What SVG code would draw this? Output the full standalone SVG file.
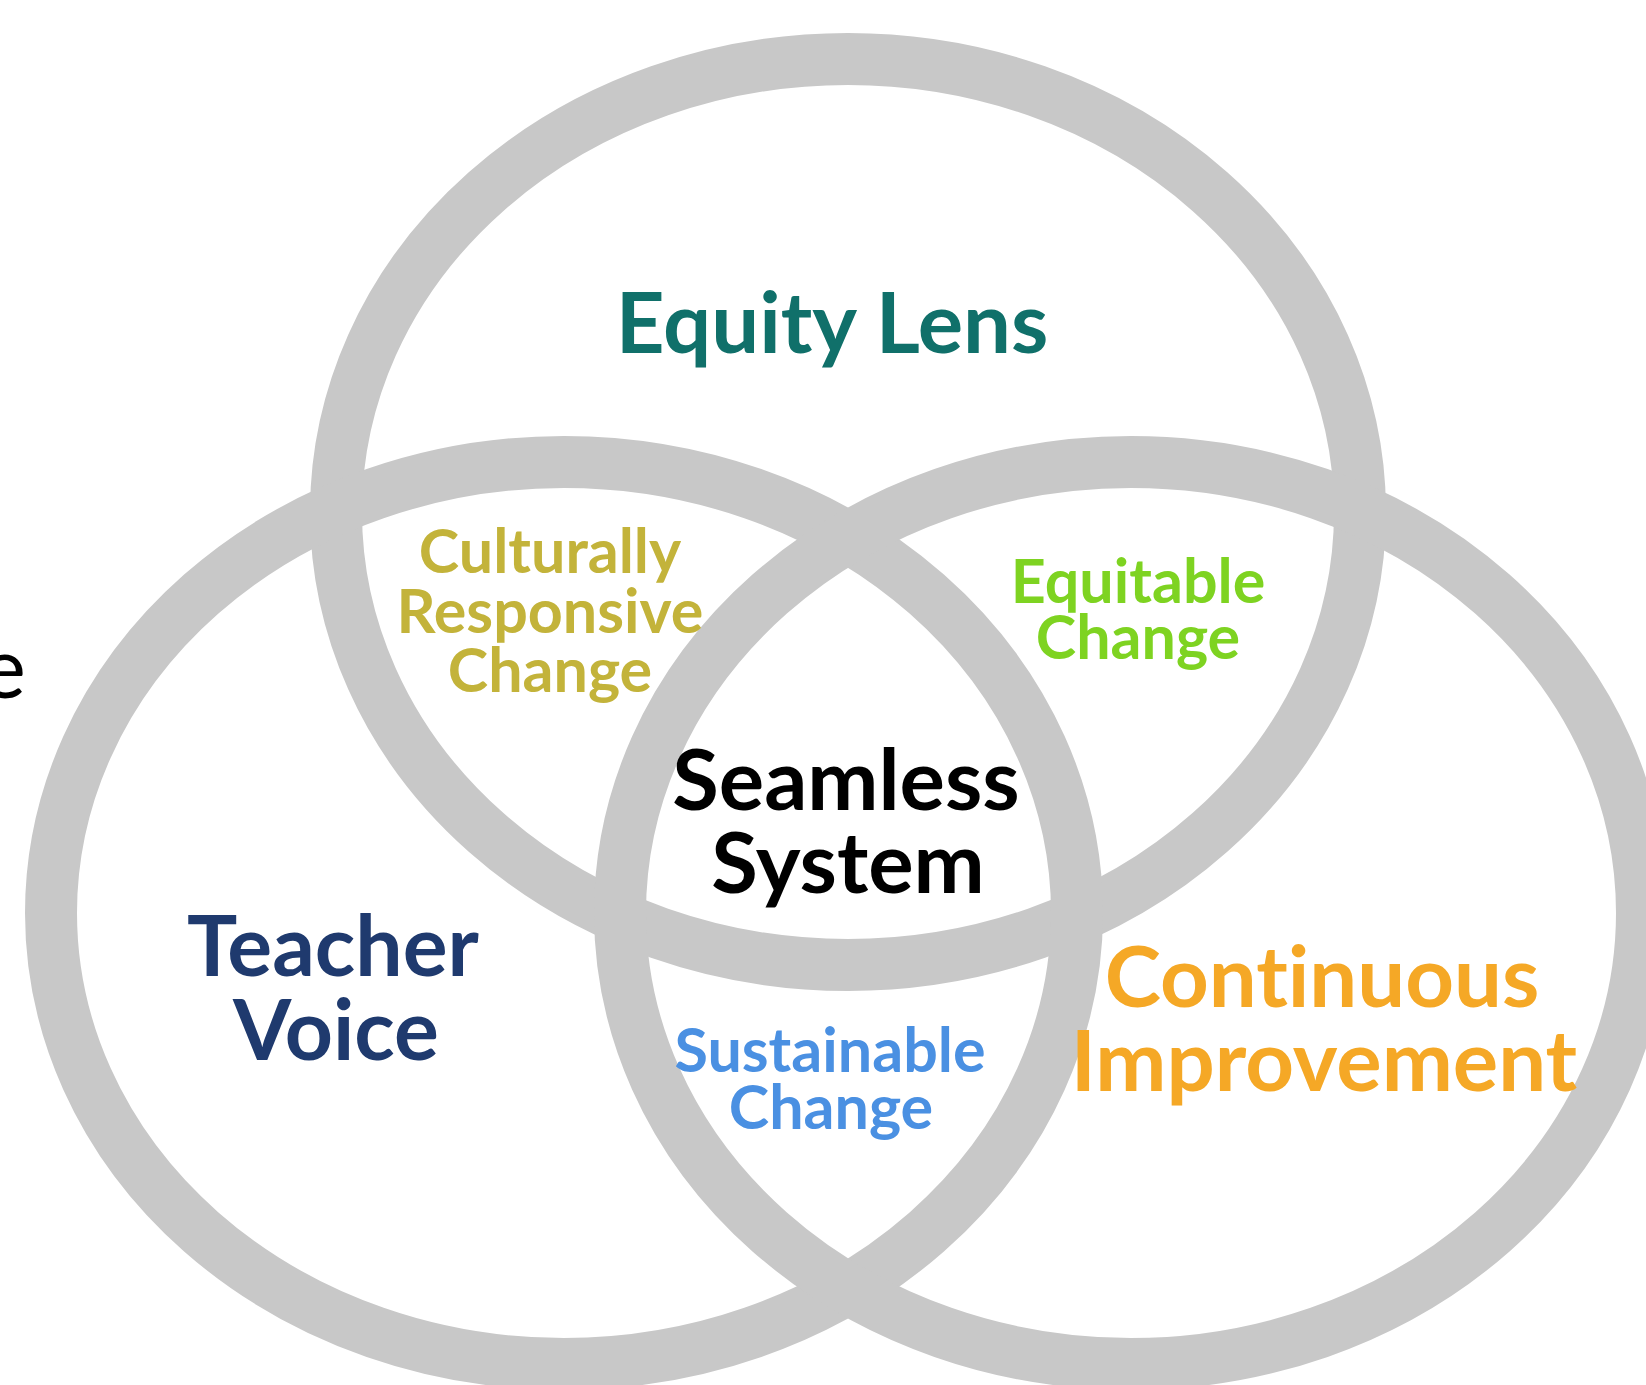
<svg xmlns="http://www.w3.org/2000/svg" width="1646" height="1385" viewBox="0 0 1646 1385">
<style>
.ring{fill:none;stroke:#c8c8c8;stroke-width:52}
text{font-family:Lato,"Noto Sans",sans-serif;font-weight:700;text-anchor:middle;font-variant-ligatures:none}
</style>
<rect width="1646" height="1385" fill="#ffffff"/>
<g id="rings">
<ellipse id="equity-lens-ring" class="ring" cx="848" cy="512" rx="512" ry="453"/>
<ellipse id="teacher-voice-ring" class="ring" cx="564" cy="913" rx="513" ry="451"/>
<ellipse id="continuous-improvement-ring" class="ring" cx="1131" cy="913" rx="511" ry="451"/>
</g>
<g id="connectors"></g>
<text id="cut-text" x="26" y="698" style="font-weight:400;text-anchor:end;font-size:85px" fill="#000">e</text>
<g id="equity-lens"><text x="832" y="353" font-size="85" fill="#10706a">Equity Lens</text></g>
<g id="culturally-responsive-change" fill="#c3b33a" font-size="61">
<text x="550" y="573">Culturally</text>
<text x="550" y="633">Responsive</text>
<text x="550" y="692">Change</text>
</g>
<g id="equitable-change" fill="#7ed321" font-size="61">
<text x="1138" y="603">Equitable</text>
<text x="1138" y="659">Change</text>
</g>
<g id="seamless-system" fill="#000000" font-size="85">
<text x="846" y="810">Seamless</text>
<text x="848" y="893">System</text>
</g>
<g id="teacher-voice" fill="#1f3a6e" font-size="84">
<text x="333" y="976">Teacher</text>
<text x="336" y="1060">Voice</text>
</g>
<g id="continuous-improvement" fill="#f5a826" font-size="85">
<text x="1322" y="1007">Continuous</text>
<text x="1324" y="1091">Improvement</text>
</g>
<g id="sustainable-change" fill="#4a90e2" font-size="61">
<text x="830" y="1072">Sustainable</text>
<text x="831" y="1129">Change</text>
</g>
</svg>
